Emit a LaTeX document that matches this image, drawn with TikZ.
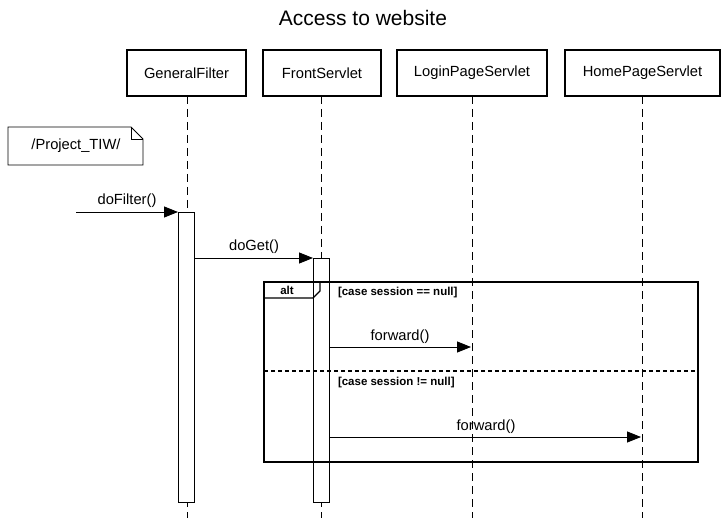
\documentclass[tikz,border=0pt]{standalone}
\usepackage{fontspec}
\setmainfont{Liberation Sans}
\usetikzlibrary{arrows.meta,positioning}
\begin{document}
\begin{tikzpicture}[x=1pt,y=-1pt,
  every node/.style={inner sep=0pt,outer sep=0pt},
  lifebox/.style={draw,line width=1.6pt,minimum height=46pt,font=\fontsize{14.7}{17}\selectfont},
  lifeline/.style={line width=0.8pt,dash pattern=on 8pt off 5pt},
  actbar/.style={draw,fill=white,line width=0.8pt,minimum width=16pt,anchor=north},
  msg/.style={line width=0.8pt,-{Triangle[length=14pt,width=11pt]}},
  lbl/.style={font=\fontsize{14.7}{17}\selectfont,anchor=base},
  guard/.style={font=\bfseries\fontsize{11.5}{13}\selectfont,anchor=base west}]
\useasboundingbox (0,0) rectangle (727,518);
\node[font=\fontsize{21}{25}\selectfont] (title) at (363,18) {Access to website};
% lifeline heads
\node[lifebox,minimum width=119pt] (gf) at (186.5,73) {GeneralFilter};
\node[lifebox,minimum width=118pt] (fs) at (322,73) {FrontServlet};
\node[lifebox,minimum width=150pt] (lp) at (472,73) {LoginPageServlet};
\node[lifebox,minimum width=155pt] (hp) at (642.5,73) {HomePageServlet};
\coordinate (gfe) at (187,518);
\coordinate (fse) at (321,518);
\coordinate (lpe) at (472,518);
\coordinate (hpe) at (642,518);
\draw[lifeline] (gf.south -| gfe) -- (gfe);
\draw[lifeline] (fs.south -| fse) -- (fse);
\draw[lifeline] (lp.south -| lpe) -- (lpe);
\draw[lifeline] (hp.south -| hpe) -- (hpe);
% note
\draw[line width=0.8pt] (8,127) -- (131,127) -- (143,139) -- (143,165) -- (8,165) -- cycle;
\draw[line width=0.8pt] (131,127) -- (131,139) -- (143,139);
\node[font=\fontsize{14.7}{17}\selectfont] (note) at (76,146) {/Project\_TIW/};
% activation bars
\node[actbar,minimum height=290pt] (gfa) at (186,212) {};
\node[actbar,minimum height=244pt] (fsa) at (321,258) {};
% messages
\coordinate (start) at (76,212);
\draw[msg] (start) -- (gfa.north west);
\node[lbl] at (127,205) {doFilter()};
\coordinate (m2) at (194,258);
\draw[msg] (gfa.east |- m2) -- (fsa.north west);
\node[lbl] at (254,251) {doGet()};
% alt frame
\draw[line width=1.6pt] (264,282) rectangle (698,462);
\draw[line width=1.2pt] (264,298) -- (313,298) -- (320,291) -- (320,282);
\node[font=\bfseries\fontsize{11.5}{13}\selectfont] (alt) at (287,290) {alt};
\node[guard] (g1) at (338,295) {[case session == null]};
\draw[line width=1.2pt,dash pattern=on 4pt off 3pt] (264,371) -- (698,371);
\node[guard] (g2) at (338,385) {[case session != null]};
\coordinate (m3) at (329,347);
\coordinate (m3e) at (471,347);
\draw[msg] (m3) -- (m3e);
\node[lbl] at (400,340) {forward()};
\coordinate (m4) at (329,437);
\coordinate (m4e) at (641,437);
\draw[msg] (m4) -- (m4e);
\node[lbl] at (486,430) {forward()};
\end{tikzpicture}
\end{document}
